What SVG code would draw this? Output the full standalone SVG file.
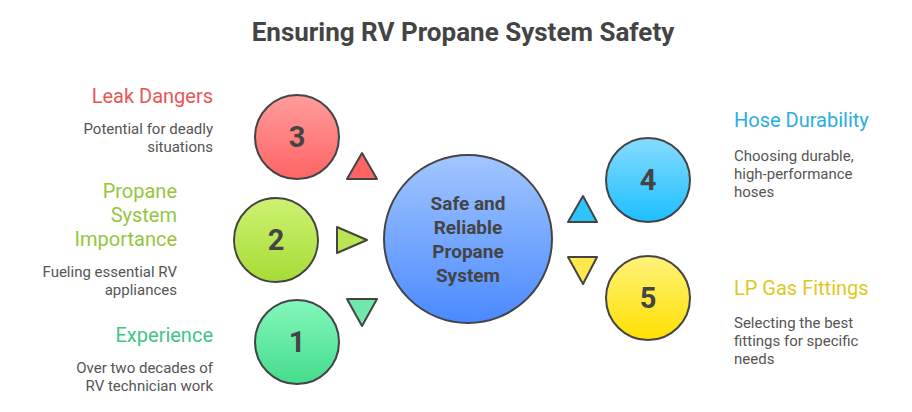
<svg xmlns="http://www.w3.org/2000/svg" width="912" height="412" viewBox="0 0 912 412">
<defs>
<linearGradient id="gRed" x1="0" y1="0" x2="0" y2="1"><stop offset="0" stop-color="#ff9c9c"/><stop offset="1" stop-color="#ff6464"/></linearGradient>
<linearGradient id="gLime" x1="0" y1="0" x2="0" y2="1"><stop offset="0" stop-color="#cdf273"/><stop offset="1" stop-color="#a6dc36"/></linearGradient>
<linearGradient id="gMint" x1="0" y1="0" x2="0" y2="1"><stop offset="0" stop-color="#84f7bb"/><stop offset="1" stop-color="#45dc8c"/></linearGradient>
<linearGradient id="gBlue" x1="0" y1="0" x2="0" y2="1"><stop offset="0" stop-color="#a2c6ff"/><stop offset="1" stop-color="#4a8aff"/></linearGradient>
<linearGradient id="gSky" x1="0" y1="0" x2="0" y2="1"><stop offset="0" stop-color="#86dcff"/><stop offset="1" stop-color="#1cbfff"/></linearGradient>
<linearGradient id="gYel" x1="0" y1="0" x2="0" y2="1"><stop offset="0" stop-color="#fff27a"/><stop offset="1" stop-color="#ffe000"/></linearGradient>
</defs>
<style>
.c{stroke:#444;stroke-width:2}
.t{stroke:#444;stroke-width:2;stroke-linejoin:round}
.num{font-family:Roboto,"Liberation Sans",sans-serif;font-weight:bold;font-size:29px;fill:#444;text-anchor:middle}
.ctr{font-family:Roboto,"Liberation Sans",sans-serif;font-weight:bold;font-size:19px;fill:#444;text-anchor:middle}
.h{font-family:Roboto,"Liberation Sans",sans-serif;font-size:20px}
.d{font-family:Roboto,"Liberation Sans",sans-serif;font-size:15px;fill:#555}
.r{text-anchor:end}
.title{font-family:Roboto,"Liberation Sans",sans-serif;font-weight:bold;font-size:26px;fill:#444;text-anchor:middle}
</style>
<rect width="912" height="412" fill="#fff"/>
<text class="title" x="463" y="41">Ensuring RV Propane System Safety</text>
<g id="connectors">
<polygon class="t" fill="#ff6464" points="362,153 377,179 347,179"/>
<polygon class="t" fill="#b8e655" points="337,227 367,240 337,253"/>
<polygon class="t" fill="#6fe9aa" points="347,299 377,299 362,326"/>
<polygon class="t" fill="#2ec5ff" points="583,196 597,222 568,222"/>
<polygon class="t" fill="#ffe84d" points="568,257 597,257 583,284"/>
</g>
<g id="center">
<circle class="c" cx="468" cy="239" r="84" fill="url(#gBlue)"/>
<text class="ctr" x="468" y="210">Safe and</text>
<text class="ctr" x="468" y="234">Reliable</text>
<text class="ctr" x="468" y="258">Propane</text>
<text class="ctr" x="468" y="282">System</text>
</g>
<g id="node3">
<circle class="c" cx="297" cy="137" r="42" fill="url(#gRed)"/>
<text class="num" x="297" y="147">3</text>
<text class="h r" x="213" y="103" fill="#e85656">Leak Dangers</text>
<text class="d r" x="213" y="134">Potential for deadly</text>
<text class="d r" x="213" y="152">situations</text>
</g>
<g id="node2">
<circle class="c" cx="276" cy="240" r="42" fill="url(#gLime)"/>
<text class="num" x="276" y="250">2</text>
<text class="h r" x="177" y="198" fill="#93c73e">Propane</text>
<text class="h r" x="177" y="222" fill="#93c73e">System</text>
<text class="h r" x="177" y="246" fill="#93c73e">Importance</text>
<text class="d r" x="177" y="277">Fueling essential RV</text>
<text class="d r" x="177" y="295">appliances</text>
</g>
<g id="node1">
<circle class="c" cx="297" cy="342" r="42" fill="url(#gMint)"/>
<text class="num" x="297" y="352">1</text>
<text class="h r" x="213" y="342" fill="#3ec77f">Experience</text>
<text class="d r" x="213" y="373">Over two decades of</text>
<text class="d r" x="213" y="391">RV technician work</text>
</g>
<g id="node4">
<circle class="c" cx="648" cy="180" r="42" fill="url(#gSky)"/>
<text class="num" x="648" y="190">4</text>
<text class="h" x="734" y="127" fill="#2aaee0">Hose Durability</text>
<text class="d" x="734" y="161">Choosing durable,</text>
<text class="d" x="734" y="179">high-performance</text>
<text class="d" x="734" y="197">hoses</text>
</g>
<g id="node5">
<circle class="c" cx="648" cy="298" r="42" fill="url(#gYel)"/>
<text class="num" x="648" y="308">5</text>
<text class="h" x="734" y="295" fill="#e0c81e">LP Gas Fittings</text>
<text class="d" x="734" y="328">Selecting the best</text>
<text class="d" x="734" y="346">fittings for specific</text>
<text class="d" x="734" y="364">needs</text>
</g>
</svg>
